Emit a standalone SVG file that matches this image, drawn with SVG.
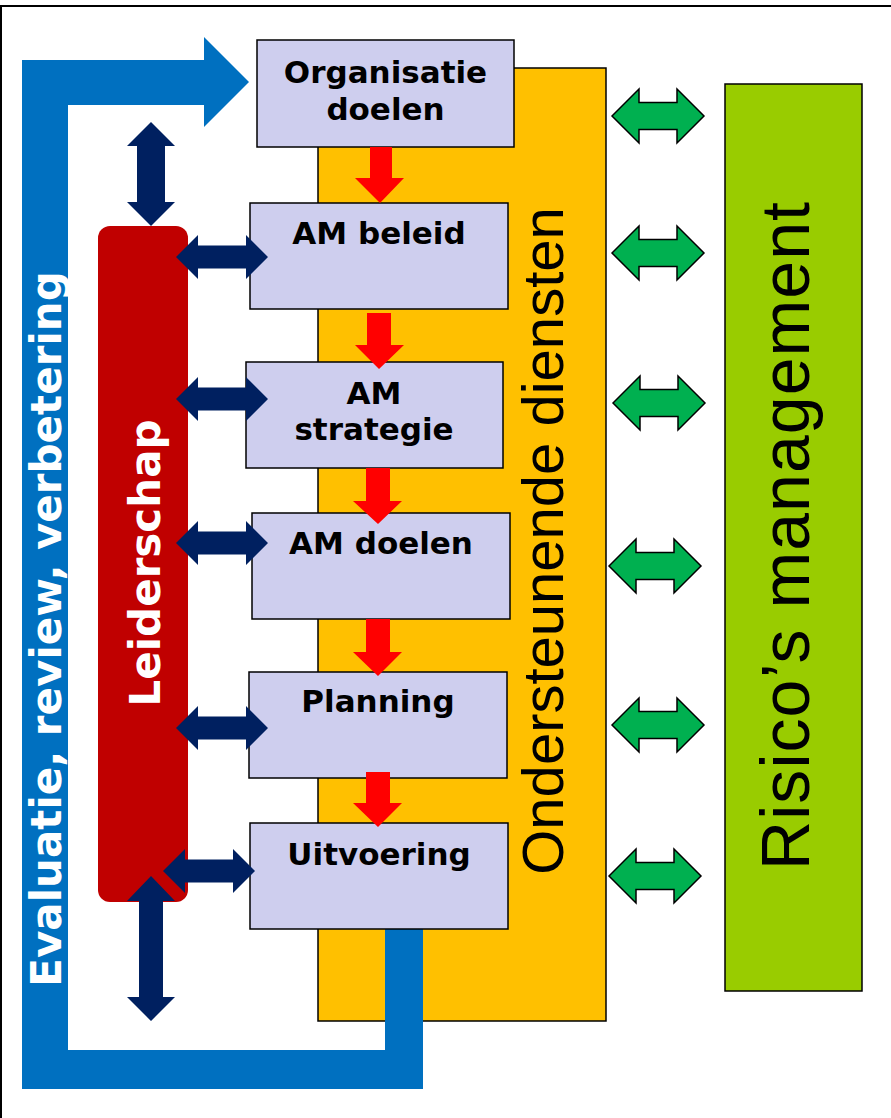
<svg xmlns="http://www.w3.org/2000/svg" xmlns:xlink="http://www.w3.org/1999/xlink" width="891" height="1118" viewBox="0 0 891 1118">
<style>
.box{fill:#CECEEE;stroke:#000;stroke-width:1.5}
.bt{font-family:"DejaVu Sans",Verdana,sans-serif;font-weight:bold;font-size:31px;fill:#000;text-anchor:middle}
.wt{font-family:"DejaVu Sans",Verdana,sans-serif;font-weight:bold;font-size:42px;fill:#fff;text-anchor:middle}
.big{font-family:"Liberation Sans",Arial,sans-serif;fill:#000;text-anchor:middle}
.navy{fill:#002060}
.red{fill:#FF0000}
.green{fill:#00B050;stroke:#000;stroke-width:1.5}
</style>
<defs>
<path id="navyH" d="M0,0 L22,-22 L22,-11.5 L70,-11.5 L70,-22 L92,0 L70,22 L70,11.5 L22,11.5 L22,22 Z"/>
<path id="greenH" d="M0,0 L27,-27 L27,-13.5 L65,-13.5 L65,-27 L92,0 L65,27 L65,13.5 L27,13.5 L27,27 Z"/>
</defs>
<rect x="0" y="0" width="891" height="1118" fill="#fff"/>
<rect x="1" y="6" width="900" height="1130" fill="none" stroke="#000" stroke-width="2"/>

<g id="ondersteunende-diensten">
<rect x="318" y="68" width="288" height="953" fill="#FFC000" stroke="#000" stroke-width="1.5"/>
<text class="big" font-size="58" transform="translate(563,541) rotate(-90)">Ondersteunende diensten</text>
</g>

<g id="risicos-management">
<rect x="725" y="84" width="137" height="907" fill="#99CC00" stroke="#000" stroke-width="1.5"/>
<text class="big" font-size="68" textLength="668" transform="translate(809,536) rotate(-90)">Risico’s management</text>
</g>

<g id="evaluatie">
<path d="M22,60 L204,60 L204,37 L249,82 L204,127 L204,105 L68,105 L68,1050 L385,1050 L385,929 L423,929 L423,1089 L22,1089 Z" fill="#0070C0"/>
<text class="wt" transform="translate(61,629) rotate(-90)">Evaluatie, review, verbetering</text>
</g>

<g id="leiderschap">
<rect x="98" y="226" width="90" height="676" rx="12" ry="12" fill="#C00000"/>
<text class="wt" transform="translate(160,563) rotate(-90)">Leiderschap</text>
</g>

<g id="organisatie-doelen">
<rect class="box" x="257" y="40" width="257" height="107"/>
<text class="bt" x="385.5" y="83">Organisatie</text>
<text class="bt" x="385.5" y="120">doelen</text>
</g>
<g id="am-beleid">
<rect class="box" x="250" y="203" width="258" height="106"/>
<text class="bt" x="379" y="244">AM beleid</text>
</g>
<g id="am-strategie">
<rect class="box" x="246" y="362" width="257" height="106"/>
<text class="bt" x="374" y="404">AM</text>
<text class="bt" x="374" y="440">strategie</text>
</g>
<g id="am-doelen">
<rect class="box" x="252" y="513" width="258" height="106"/>
<text class="bt" x="381" y="554">AM doelen</text>
</g>
<g id="planning">
<rect class="box" x="249" y="672" width="258" height="106"/>
<text class="bt" x="378" y="712">Planning</text>
</g>
<g id="uitvoering">
<rect class="box" x="250" y="823" width="258" height="106"/>
<text class="bt" x="379" y="865">Uitvoering</text>
</g>

<g id="connectors">
<!-- red flow arrows -->
<path class="red" d="M370,147 L392,147 L392,178 L404,178 L380,203 L355,178 L370,178 Z"/>
<path class="red" d="M367,313 L391,313 L391,345 L404,345 L379,369 L355,345 L367,345 Z"/>
<path class="red" d="M366,468 L390,468 L390,501 L402,501 L378,524 L353,501 L366,501 Z"/>
<path class="red" d="M366,619 L390,619 L390,652 L402,652 L378,676 L353,652 L366,652 Z"/>
<path class="red" d="M366,772 L390,772 L390,803 L402,803 L378,827 L353,803 L366,803 Z"/>
<!-- navy vertical arrows -->
<path class="navy" d="M151,122 L175,146 L165,146 L165,202 L175,202 L151,226 L127,202 L137,202 L137,146 L127,146 Z"/>
<path class="navy" d="M151,876 L175,901 L163,901 L163,997 L175,997 L151,1021 L127,997 L139,997 L139,901 L127,901 Z"/>
<!-- navy horizontal arrows -->
<use xlink:href="#navyH" class="navy" x="176" y="257"/>
<use xlink:href="#navyH" class="navy" x="176" y="399"/>
<use xlink:href="#navyH" class="navy" x="176" y="543"/>
<use xlink:href="#navyH" class="navy" x="176" y="728"/>
<use xlink:href="#navyH" class="navy" x="163" y="871"/>
<!-- green arrows -->
<use xlink:href="#greenH" class="green" x="612" y="116"/>
<use xlink:href="#greenH" class="green" x="612" y="253"/>
<use xlink:href="#greenH" class="green" x="613" y="403"/>
<use xlink:href="#greenH" class="green" x="609" y="566"/>
<use xlink:href="#greenH" class="green" x="612" y="725"/>
<use xlink:href="#greenH" class="green" x="609" y="876"/>
</g>
</svg>
